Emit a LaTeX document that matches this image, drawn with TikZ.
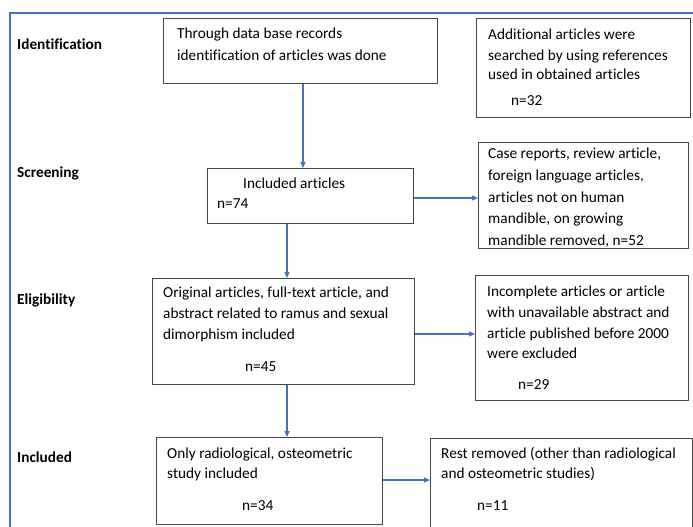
\documentclass[tikz,border=0pt]{standalone}
\usepackage{fontspec}
\setmainfont{Carlito}[Ligatures=NoCommon]
\usetikzlibrary{arrows.meta}
\definecolor{ofblue}{RGB}{68,114,196}
\definecolor{boxgray}{RGB}{70,70,70}
\begin{document}
\begin{tikzpicture}[x=1pt,y=-1pt,
  box/.style={draw=boxgray,line width=0.9pt,anchor=north west,inner sep=0pt},
  txt/.style={anchor=base west,inner sep=0pt,font=\fontsize{15.3}{18}\selectfont},
  lab/.style={anchor=base west,inner sep=0pt,font=\fontsize{15.3}{18}\selectfont\bfseries},
  arr/.style={draw=ofblue,line width=1.1pt,-{Triangle[length=6pt,width=5pt]}}]
\useasboundingbox (0,0) rectangle (693,527);
% frame
\draw[ofblue,line width=1.2pt] (10,530) -- (10,13) -- (695,13);
% stage labels
\node[lab] (lid) at (17,49) {Identification};
\node[lab] (lsc) at (17,177) {Screening};
\node[lab] (lel) at (17,304) {Eligibility};
\node[lab] (lin) at (17,462) {Included};
% boxes
\node[box,minimum width=274pt,minimum height=65pt] (b1) at (163,18) {};
\node[box,minimum width=214pt,minimum height=99pt] (b2) at (476,18) {};
\node[box,minimum width=206pt,minimum height=55pt] (b3) at (207,168) {};
\node[box,minimum width=210pt,minimum height=106pt] (b4) at (478,142) {};
\node[box,minimum width=262pt,minimum height=106pt] (b5) at (152,278) {};
\node[box,minimum width=213pt,minimum height=125pt] (b6) at (475,275) {};
\node[box,minimum width=226pt,minimum height=87pt] (b7) at (156,437) {};
\node[box,minimum width=262pt,minimum height=100pt] (b8) at (430,438) {};
% texts box1
\node[txt] (t1a) at (177,39) {Through data base records};
\node[txt] (t1b) at (177,61) {identification of articles was done};
% box2
\node[txt] (t2a) at (488,40) {Additional articles were};
\node[txt] (t2b) at (488,60) {searched by using references};
\node[txt] (t2c) at (488,80) {used in obtained articles};
\node[txt] (t2d) at (511,105) {n=32};
% box3
\node[txt] (t3a) at (243,188) {Included articles};
\node[txt] (t3b) at (217,208) {n=74};
% box4
\node[txt] (t4a) at (488,158) {Case reports, review article,};
\node[txt] (t4b) at (488,180) {foreign language articles,};
\node[txt] (t4c) at (488,202) {articles not on human};
\node[txt] (t4d) at (488,223) {mandible, on growing};
\node[txt] (t4e) at (488,245) {mandible removed, n=52};
% box5
\node[txt] (t5a) at (163,297) {Original articles, full-text article, and};
\node[txt] (t5b) at (163,318) {abstract related to ramus and sexual};
\node[txt] (t5c) at (163,339) {dimorphism included};
\node[txt] (t5d) at (245,371) {n=45};
% box6
\node[txt] (t6a) at (487,296) {Incomplete articles or article};
\node[txt] (t6b) at (487,317) {with unavailable abstract and};
\node[txt] (t6c) at (487,338) {article published before 2000};
\node[txt] (t6d) at (487,358) {were excluded};
\node[txt] (t6e) at (518,389) {n=29};
% box7
\node[txt] (t7a) at (167,458) {Only radiological, osteometric};
\node[txt] (t7b) at (167,478) {study included};
\node[txt] (t7c) at (242,510) {n=34};
% box8
\node[txt] (t8a) at (441,458) {Rest removed (other than radiological};
\node[txt] (t8b) at (441,478) {and osteometric studies)};
\node[txt] (t8c) at (477,510) {n=11};
% arrows
\draw[arr] (b1.south -| 303,0) -- (b3.north -| 303,0);
\draw[arr] (b3.east |- 0,198) -- (b4.west |- 0,198);
\draw[arr] (b3.south -| 287,0) -- (b5.north -| 287,0);
\draw[arr] (b5.east |- 0,334) -- (b6.west |- 0,334);
\draw[arr] (b5.south -| 287,0) -- (b7.north -| 287,0);
\draw[arr] (b7.east |- 0,480) -- (b8.west |- 0,480);
\end{tikzpicture}
\end{document}
